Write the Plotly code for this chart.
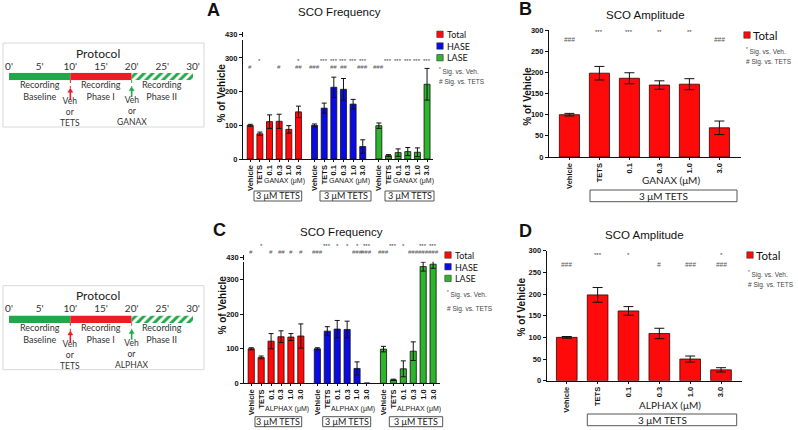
import plotly.graph_objects as go

W, H = 798, 430
def px(x): return x / W
def py(y): return 1 - y / H

# ---------------- DATA ----------------
doses = ["Vehicle", "TETS", "0.1", "0.3", "1.0", "3.0"]
freq_groups = ["Total", "HASE", "LASE"]

# Panel A: SCO Frequency, GANAX
A_total = [100, 75, 111, 112, 88, 140]
A_total_err = [3, 5, 20, 21, 11, 17]
A_hase = [100, 151, 213, 207, 163, 37]
A_hase_err = [4, 15, 30, 32, 14, 20]
A_lase = [99, 10, 19, 22, 20, 222]
A_lase_err = [8, 3, 11, 12, 13, 47]
A_star = [["", "*", "", "", "", "*"],
          ["", "***", "***", "***", "***", "***"],
          ["", "***", "***", "***", "***", "***"]]
A_hash = [["#", "", "", "#", "", "##"],
          ["###", "", "##", "##", "", "###"],
          ["###", "", "", "", "", ""]]

# Panel B: SCO Amplitude, GANAX
B_total = [100, 198, 186, 170, 172, 69]
B_total_err = [3, 16, 13, 10, 13, 16]
B_star = ["", "***", "***", "**", "**", ""]
B_hash = ["###", "", "", "", "", "###"]

# Panel C: SCO Frequency, ALPHAX
C_total = [100, 75, 122, 135, 134, 137]
C_total_err = [3, 4, 22, 17, 10, 35]
C_hase = [100, 151, 157, 156, 43, 0]
C_hase_err = [3, 13, 25, 24, 19, 0]
C_lase = [99, 10, 42, 93, 338, 345]
C_lase_err = [8, 2, 23, 27, 13, 12]
C_star = [["", "*", "", "", "", ""],
          ["", "***", "*", "*", "*", "***"],
          ["", "***", "*", "", "***", "***"]]
C_hash = [["#", "", "#", "##", "#", "#"],
          ["###", "", "", "", "###", "###"],
          ["###", "", "", "###", "###", "###"]]

# Panel D: SCO Amplitude, ALPHAX
D_total = [100, 198, 161, 109, 50, 25]
D_total_err = [2, 17, 10, 12, 7, 5]
D_star = ["", "***", "*", "", "", "*"]
D_hash = ["###", "", "", "#", "###", "###"]

freq_ticks = [0, 100, 200, 300]
amp_ticks = [0, 50, 100, 150, 200, 250, 300]
break_tick = [430]

protocol_ticks = [0, 5, 10, 15, 20, 25, 30]
protocol_labels = ["0'", "5'", "10'", "15'", "20'", "25'", "30'"]
protocol_phases = ["Recording<br>Baseline", "Recording<br>Phase I", "Recording<br>Phase II"]
phase_start = [0, 10, 20]
phase_len = [10, 10, 10]

# ---------------- STYLE ----------------
RED = "#ff0a0a"
BLUE = "#0a0ae6"
GREEN = "#2db52d"
P_GREEN = "#22a84a"
P_RED = "#ee1c25"
GROUP_STEP = 6 + 2 / 3
colors = [RED, BLUE, GREEN]
ARIAL = "Liberation Sans"
CAL = "Lato"

fig = go.Figure()

def add_bars(xaxis, yaxis, xs, vals, errs, color, width, capw):
    fig.add_trace(go.Bar(
        x=xs, y=vals, xaxis=xaxis, yaxis=yaxis, width=width,
        marker=dict(color=color, line=dict(color="#3a0000" if color == RED else "#111", width=0.8)),
        error_y=dict(type="data", array=errs, symmetric=True, color="#111", thickness=1, width=capw),
        showlegend=False, hoverinfo="skip"))

ann = []
shapes = []

def text(t, x, y, size, family=ARIAL, color="#111", xref="paper", xanchor="center", angle=0, align="center"):
    ann.append(dict(text=t, x=x, y=y, xref=xref, yref="paper", showarrow=False,
                    xanchor=xanchor, yanchor="middle", textangle=angle, align=align,
                    font=dict(family=family, size=size, color=color)))

# ---------- Protocol panels ----------
prot_x0, prot_x1 = 9, 193  # pixel extent of 0'..30'
def mx(m): return prot_x0 + (prot_x1 - prot_x0) * m / 30.0

for k, (xa, ya, dy, drug) in enumerate([("x", "y", 0, "GANAX"), ("x2", "y2", 242.7, "ALPHAX")]):
    pcols = [P_GREEN, P_RED, "white"]
    for j in range(3):
        fig.add_trace(go.Bar(
            y=[0], x=[phase_len[j]], base=[phase_start[j]], orientation="h", width=1,
            xaxis=xa, yaxis=ya,
            marker=dict(color=pcols[j], line=dict(width=0),
                        pattern=dict(shape="/", fgcolor=P_GREEN, bgcolor="white", size=6, solidity=0.5) if j == 2 else None),
            showlegend=False, hoverinfo="skip"))
    shapes.append(dict(type="rect", xref="paper", yref="paper", x0=px(3), x1=px(204),
                       y0=py(127 + dy), y1=py(43 + dy), line=dict(color="#d8d8d8", width=1)))
    text("Protocol", px(98), py(53 + dy), 12, CAL, "#222")
    for j, lab in enumerate(protocol_phases):
        text(lab, phase_start[j] + phase_len[j] / 2, py(90.5 + dy), 9, CAL, "#333", xref=xa)
    for xm, tip, tail, col, words, wc in [(10, 88.3, 100, P_RED, "Veh<br>or<br>TETS", 112),
                                          (20, 86.7, 97, P_GREEN, "Veh<br>or<br>" + drug, 111)]:
        shapes.append(dict(type="line", xref=xa, yref="paper", x0=xm, x1=xm, y0=py(80 + dy), y1=py(tip + dy),
                           line=dict(color=col, width=1, dash="dot")))
        shapes.append(dict(type="line", xref=xa, yref="paper", x0=xm, x1=xm, y0=py(tail + dy), y1=py(tip + 3 + dy),
                           line=dict(color=col, width=1.6)))
        cx = mx(xm)
        shapes.append(dict(type="path", xref="paper", yref="paper",
                           path=f"M {px(cx - 2.5)} {py(tip + 4 + dy)} L {px(cx + 2.5)} {py(tip + 4 + dy)} L {px(cx)} {py(tip + dy)} Z",
                           fillcolor=col, line=dict(color=col, width=0.5)))
        text(words, xm, py(wc + dy), 8.5, CAL, "#333", xref=xa)

def axis_common():
    return dict(showline=True, linecolor="#111", linewidth=1.2, ticks="outside", ticklen=3,
                tickcolor="#111", showgrid=False, zeroline=False, automargin=False, title=dict(text=""))

XTICKFONT = dict(family=ARIAL, size=7.5, color="#111", weight="bold")
YTICKFONT = dict(family=ARIAL, size=7.5, color="#111", weight="bold")
LEG_FS = 9

# ---------- Frequency panels (A and C) ----------
def freq_panel(xa, ya, ya_up, series, errs, stars, hashes, drug, letter,
               xdom, ylow, ytop, yup, rng_top, xr, title_xy, letter_xy, ylab_xy,
               star_y, hash_y, druglab, boxes, legend):
    xs_all = []
    for g in range(3):
        xs = [g * GROUP_STEP + i for i in range(6)]
        xs_all += xs
        add_bars(xa, ya, xs, series[g], errs[g], colors[g], 0.62, 2.5)
        for i in range(6):
            if stars[g][i]:
                text(stars[g][i], xs[i], py(star_y), 6, ARIAL, "#444", xref=xa)
            if hashes[g][i]:
                text("<i>" + hashes[g][i] + "</i>", xs[i], py(hash_y), 6, ARIAL, "#555", xref=xa)
        text(drug + " (μM)", g * GROUP_STEP + 3.6, py(druglab[g]), 7, ARIAL, "#222", xref=xa)
    fig.add_trace(go.Scatter(x=[0], y=[430], xaxis=xa, yaxis=ya_up, mode="markers",
                             marker=dict(opacity=0), showlegend=False, hoverinfo="skip"))
    xn = "xaxis" + xa[1:]
    yn = "yaxis" + ya[1:]
    yun = "yaxis" + ya_up[1:]
    fig.layout[xn] = dict(axis_common(), domain=[px(xdom[0]), px(xdom[1])], range=xr, anchor=ya,
                          tickmode="array", tickvals=xs_all, ticktext=doses * 3, tickangle=-90,
                          ticklen=2, tickfont=XTICKFONT)
    fig.layout[yn] = dict(axis_common(), domain=[py(ylow), py(ytop)], range=[0, rng_top], anchor=xa,
                          tickmode="array", tickvals=freq_ticks, tickfont=YTICKFONT)
    fig.layout[yun] = dict(axis_common(), domain=[py(yup[1]), py(yup[0])], range=[426, 434], anchor=xa,
                           tickmode="array", tickvals=break_tick, tickfont=YTICKFONT)
    text("SCO Frequency", px(title_xy[0]), py(title_xy[1]), 11.5)
    text("<b>" + letter + "</b>", px(letter_xy[0]), py(letter_xy[1]), 18)
    text("<b>% of Vehicle</b>", px(ylab_xy[0]), py(ylab_xy[1]), 10, angle=-90)
    for (bx0, bx1, by0, by1) in boxes:
        shapes.append(dict(type="rect", xref="paper", yref="paper", x0=px(bx0), x1=px(bx1),
                           y0=py(by1), y1=py(by0), line=dict(color="#555", width=1)))
        text("3 μM TETS", px((bx0 + bx1) / 2), py((by0 + by1) / 2), 9, CAL, "#222")
    lx, lyc, sx, sy = legend
    step = 1.3 * LEG_FS
    for g in range(3):
        yy = lyc + (g - 1) * step
        shapes.append(dict(type="rect", xref="paper", yref="paper", x0=px(lx - 3.2), x1=px(lx + 3.2),
                           y0=py(yy + 3.2), y1=py(yy - 3.2), fillcolor=colors[g],
                           line=dict(color="#333", width=0.6)))
    text("<br>".join(freq_groups), px(lx + 5), py(lyc), LEG_FS, CAL, "#111", xanchor="left", align="left")
    text("<sup>*</sup> Sig. vs. Veh.", px(sx), py(sy[0]), 6.5, ARIAL, "#444", xanchor="left")
    text("# Sig. vs. TETS", px(sx), py(sy[1]), 6.5, ARIAL, "#444", xanchor="left")

freq_panel("x3", "y3", "y4", [A_total, A_hase, A_lase], [A_total_err, A_hase_err, A_lase_err],
           A_star, A_hash, "GANAX", "A",
           xdom=(243, 433), ylow=159, ytop=40, yup=(32, 37), rng_top=353.4, xr=[-0.75, 18.95],
           title_xy=(339, 12), letter_xy=(213, 10), ylab_xy=(221.5, 93),
           star_y=61.5, hash_y=67, druglab=[181, 181, 181],
           boxes=[(254, 301.7, 191, 201), (320, 371, 191, 201), (385, 434, 191, 201)],
           legend=(440, 46, 437, [71.7, 81.7]))

freq_panel("x6", "y6", "y7", [C_total, C_hase, C_lase], [C_total_err, C_hase_err, C_lase_err],
           C_star, C_hash, "ALPHAX", "C",
           xdom=(244.3, 440), ylow=383.3, ytop=261.7, yup=(255, 260), rng_top=352.2, xr=[-0.7, 19.03],
           title_xy=(341.7, 231.7), letter_xy=(219, 230), ylab_xy=(221.5, 305),
           star_y=245.7, hash_y=252.3, druglab=[408.5, 408.5, 408.5],
           boxes=[(255, 301.7, 416.7, 426.7), (322.7, 370.7, 416.7, 426.7), (389.3, 442.7, 416.7, 426.7)],
           legend=(448, 266.7, 445, [294.3, 309.3]))

# ---------- Amplitude panels (B and D) ----------
def amp_panel(xa, ya, vals, errs, stars, hashes, drug, letter, xdom, ylow, ytop, xr,
              title_xy, letter_xy, ylab_xy, star_y, hash_y, druglab_xy, box, legend):
    xs = list(range(6))
    add_bars(xa, ya, xs, vals, errs, RED, 0.67, 5)
    for i in range(6):
        if stars[i]:
            text(stars[i], xs[i], py(star_y), 6, ARIAL, "#444", xref=xa)
        if hashes[i]:
            text("<i>" + hashes[i] + "</i>", xs[i], py(hash_y), 6.5, ARIAL, "#555", xref=xa)
    xn = "xaxis" + xa[1:]
    yn = "yaxis" + ya[1:]
    fig.layout[xn] = dict(axis_common(), domain=[px(xdom[0]), px(xdom[1])], range=xr, anchor=ya,
                          tickmode="array", tickvals=xs, ticktext=doses, tickangle=-90,
                          ticklen=2, tickfont=XTICKFONT)
    fig.layout[yn] = dict(axis_common(), domain=[py(ylow), py(ytop)], range=[0, 300], anchor=xa,
                          tickmode="array", tickvals=amp_ticks, tickfont=YTICKFONT)
    text("SCO Amplitude", px(title_xy[0]), py(title_xy[1]), 11.5)
    text("<b>" + letter + "</b>", px(letter_xy[0]), py(letter_xy[1]), 18)
    text("<b>% of Vehicle</b>", px(ylab_xy[0]), py(ylab_xy[1]), 10, angle=-90)
    text(drug + " (μM)", px(druglab_xy[0]), py(druglab_xy[1]), 10, CAL, "#222")
    bx0, bx1, by0, by1 = box
    shapes.append(dict(type="rect", xref="paper", yref="paper", x0=px(bx0), x1=px(bx1),
                       y0=py(by1), y1=py(by0), line=dict(color="#555", width=1)))
    text("3 μM TETS", px((bx0 + bx1) / 2), py((by0 + by1) / 2), 10, CAL, "#222")
    lx, ly, sx, sy = legend
    shapes.append(dict(type="rect", xref="paper", yref="paper", x0=px(lx - 3.2), x1=px(lx + 3.2),
                       y0=py(ly + 3.2), y1=py(ly - 3.2), fillcolor=RED, line=dict(color="#333", width=0.6)))
    text("Total", px(lx + 4), py(ly), 11.5, CAL, "#111", xanchor="left")
    text("<sup>*</sup> Sig. vs. Veh.", px(sx), py(sy[0]), 6.5, ARIAL, "#444", xanchor="left")
    text("# Sig. vs. TETS", px(sx), py(sy[1]), 6.5, ARIAL, "#444", xanchor="left")

amp_panel("x5", "y5", B_total, B_total_err, B_star, B_hash, "GANAX", "B",
          xdom=(549, 740.7), ylow=157, ytop=30, xr=[-0.68, 5.71],
          title_xy=(645, 15), letter_xy=(525, 9), ylab_xy=(528, 96.7),
          star_y=32.3, hash_y=40, druglab_xy=(671, 180), box=(590, 737, 190, 201.7),
          legend=(747, 35, 744, [51.7, 61.7]))

amp_panel("x8", "y8", D_total, D_total_err, D_star, D_hash, "ALPHAX", "D",
          xdom=(546.7, 741.7), ylow=380.7, ytop=250.7, xr=[-0.65, 5.67],
          title_xy=(644, 235), letter_xy=(525, 230.7), ylab_xy=(521.7, 306.7),
          star_y=255, hash_y=264.3, druglab_xy=(670, 405), box=(587.3, 736.7, 414, 425.7),
          legend=(750, 255, 746, [274, 285]))

# ---------- Protocol axes ----------
for xa, ya, xa_s, ya_s, dy in [("xaxis", "yaxis", "x", "y", 0), ("xaxis2", "yaxis2", "x2", "y2", 242.7)]:
    fig.layout[xa] = dict(domain=[px(prot_x0), px(prot_x1)], range=[0, 30], side="top", anchor=ya_s,
                          tickmode="array", tickvals=protocol_ticks, ticktext=protocol_labels,
                          showline=False, showgrid=False, zeroline=False, ticks="", automargin=False,
                          tickfont=dict(family=CAL, size=10, color="#333"))
    fig.layout[ya] = dict(domain=[py(80.3 + dy), py(72.7 + dy)], range=[-0.5, 0.5], visible=False,
                          anchor=xa_s, automargin=False)

fig.update_layout(template="none", width=W, height=H, margin=dict(l=0, r=0, t=0, b=0, pad=0), autosize=False,
                  paper_bgcolor="white", plot_bgcolor="white", barmode="overlay",
                  annotations=ann, shapes=shapes, showlegend=False)
fig.write_html("out.html", config={"displayModeBar": False},
               post_script="document.body.style.margin='0px';")
